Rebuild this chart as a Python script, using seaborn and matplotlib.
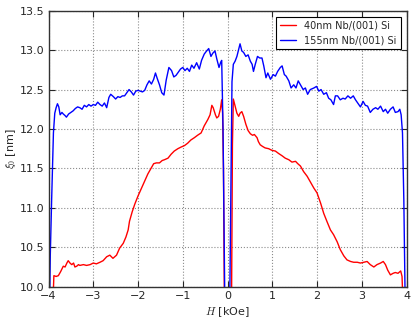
import numpy as np
import pandas as pd
import seaborn as sns
import matplotlib
matplotlib.use("Agg")
import matplotlib.pyplot as plt

# field values [kOe] and coherence length [nm]
blue_h = [-3.975, -3.96, -3.93, -3.89, -3.86, -3.83, -3.80, -3.77, -3.74, -3.70,
          -3.67, -3.63, -3.60, -3.55, -3.50, -3.45, -3.40, -3.35, -3.30, -3.25,
          -3.20, -3.15, -3.10, -3.05, -3.00, -2.95, -2.90, -2.85, -2.80, -2.75,
          -2.70, -2.65, -2.61, -2.55, -2.50, -2.45, -2.40, -2.35, -2.30, -2.25,
          -2.20, -2.15, -2.10, -2.05, -2.00, -1.95, -1.90, -1.85, -1.80, -1.75,
          -1.70, -1.65, -1.61, -1.57, -1.52, -1.47, -1.42, -1.37, -1.31, -1.25,
          -1.20, -1.15, -1.10, -1.05, -1.00, -0.95, -0.90, -0.85, -0.80, -0.75,
          -0.69, -0.63, -0.58, -0.52, -0.48, -0.42, -0.37, -0.33, -0.28, -0.24,
          -0.19, -0.15, -0.13, -0.10, -0.06, 0.05, 0.08, 0.10, 0.13, 0.17,
          0.21, 0.25, 0.28, 0.32, 0.36, 0.41, 0.46, 0.51, 0.55, 0.58,
          0.62, 0.67, 0.72, 0.77, 0.81, 0.86, 0.90, 0.96, 1.02, 1.07,
          1.12, 1.18, 1.22, 1.27, 1.31, 1.37, 1.42, 1.48, 1.53, 1.58,
          1.63, 1.69, 1.74, 1.79, 1.85, 1.93, 1.99, 2.04, 2.09, 2.15,
          2.21, 2.26, 2.31, 2.37, 2.41, 2.46, 2.52, 2.58, 2.63, 2.69,
          2.75, 2.81, 2.86, 2.91, 2.97, 3.03, 3.08, 3.13, 3.19, 3.25,
          3.31, 3.36, 3.42, 3.48, 3.53, 3.58, 3.64, 3.70, 3.75, 3.81,
          3.85, 3.88, 3.91, 3.94, 3.97]
blue_xi = [9.8, 10.4, 11.1, 11.95, 12.2, 12.27, 12.32, 12.28, 12.18, 12.21,
           12.19, 12.17, 12.15, 12.19, 12.21, 12.23, 12.26, 12.28, 12.27, 12.25,
           12.30, 12.28, 12.31, 12.29, 12.31, 12.30, 12.34, 12.31, 12.29, 12.33,
           12.27, 12.40, 12.44, 12.41, 12.38, 12.41, 12.40, 12.42, 12.42, 12.46,
           12.50, 12.47, 12.43, 12.48, 12.49, 12.48, 12.47, 12.49, 12.56, 12.61,
           12.57, 12.63, 12.71, 12.64, 12.56, 12.46, 12.43, 12.62, 12.78, 12.74,
           12.66, 12.68, 12.72, 12.76, 12.78, 12.74, 12.77, 12.73, 12.81, 12.77,
           12.84, 12.76, 12.87, 12.95, 12.98, 13.02, 12.92, 12.96, 12.99, 12.89,
           12.78, 12.85, 12.87, 12.0, 9.8, 9.8, 11.5, 12.6, 12.82, 12.86,
           12.92, 13.01, 13.08, 12.99, 12.97, 12.92, 12.94, 12.86, 12.82, 12.73,
           12.82, 12.92, 12.90, 12.90, 12.80, 12.65, 12.71, 12.63, 12.69, 12.67,
           12.73, 12.78, 12.80, 12.69, 12.67, 12.61, 12.52, 12.56, 12.52, 12.61,
           12.56, 12.50, 12.52, 12.44, 12.50, 12.52, 12.54, 12.48, 12.50, 12.44,
           12.46, 12.39, 12.37, 12.31, 12.42, 12.42, 12.37, 12.39, 12.38, 12.42,
           12.39, 12.42, 12.37, 12.33, 12.28, 12.35, 12.30, 12.29, 12.21, 12.25,
           12.27, 12.25, 12.29, 12.22, 12.25, 12.20, 12.25, 12.28, 12.21, 12.22,
           12.25, 12.18, 11.95, 11.1, 9.8]

red_h = [-3.90, -3.88, -3.83, -3.78, -3.73, -3.67, -3.63, -3.59, -3.56, -3.52,
         -3.48, -3.44, -3.41, -3.37, -3.33, -3.30, -3.22, -3.15, -3.07, -3.00,
         -2.93, -2.85, -2.78, -2.70, -2.63, -2.56, -2.48, -2.41, -2.33, -2.27,
         -2.22, -2.19, -2.13, -2.07, -2.00, -1.93, -1.85, -1.78, -1.70, -1.65,
         -1.59, -1.52, -1.46, -1.41, -1.33, -1.26, -1.19, -1.11, -1.04, -0.96,
         -0.89, -0.82, -0.74, -0.67, -0.59, -0.52, -0.44, -0.39, -0.35, -0.32,
         -0.27, -0.24, -0.20, -0.16, -0.13, -0.11, -0.09, -0.07, 0.09, 0.11,
         0.13, 0.17, 0.21, 0.25, 0.28, 0.32, 0.36, 0.41, 0.46, 0.51,
         0.56, 0.60, 0.66, 0.69, 0.73, 0.78, 0.84, 0.92, 0.99, 1.07,
         1.14, 1.22, 1.29, 1.37, 1.44, 1.52, 1.57, 1.63, 1.70, 1.78,
         1.85, 1.93, 2.00, 2.08, 2.15, 2.22, 2.30, 2.37, 2.45, 2.52,
         2.60, 2.67, 2.75, 2.82, 2.90, 2.97, 3.05, 3.12, 3.19, 3.27,
         3.34, 3.42, 3.48, 3.53, 3.58, 3.64, 3.70, 3.75, 3.81, 3.87,
         3.90, 3.92]
red_xi = [9.8, 10.14, 10.13, 10.14, 10.19, 10.26, 10.25, 10.30, 10.33, 10.30,
          10.28, 10.30, 10.25, 10.26, 10.28, 10.27, 10.28, 10.27, 10.28, 10.30,
          10.29, 10.31, 10.33, 10.38, 10.40, 10.36, 10.40, 10.49, 10.55, 10.63,
          10.72, 10.83, 10.95, 11.05, 11.15, 11.24, 11.34, 11.43, 11.51, 11.56,
          11.57, 11.57, 11.60, 11.61, 11.63, 11.68, 11.72, 11.75, 11.77, 11.79,
          11.82, 11.86, 11.89, 11.92, 11.95, 12.04, 12.12, 12.18, 12.30, 12.27,
          12.18, 12.14, 12.16, 12.25, 12.37, 12.20, 11.5, 9.8, 9.8, 11.8,
          12.38, 12.29, 12.20, 12.16, 12.20, 12.22, 12.16, 12.06, 11.98, 11.94,
          11.92, 11.93, 11.89, 11.84, 11.80, 11.78, 11.76, 11.75, 11.73, 11.72,
          11.69, 11.66, 11.63, 11.61, 11.58, 11.59, 11.56, 11.53, 11.46, 11.40,
          11.33, 11.25, 11.19, 11.06, 10.93, 10.83, 10.72, 10.66, 10.57, 10.47,
          10.39, 10.34, 10.32, 10.31, 10.31, 10.30, 10.31, 10.32, 10.28, 10.25,
          10.28, 10.30, 10.32, 10.28, 10.21, 10.15, 10.17, 10.18, 10.17, 10.20,
          10.13, 9.8]

labels = ["40nm Nb/(001) Si", "155nm Nb/(001) Si"]
xticks = [-4, -3, -2, -1, 0, 1, 2, 3, 4]
yticks = [10.0, 10.5, 11.0, 11.5, 12.0, 12.5, 13.0, 13.5]

df_red = pd.DataFrame({"H": red_h, "xi": red_xi})
df_blue = pd.DataFrame({"H": blue_h, "xi": blue_xi})

# old matplotlib look: dotted grid, ticks inside
sns.set_style("ticks", {"axes.grid": True, "grid.linestyle": ":", "grid.color": "0.55",
                        "xtick.direction": "in", "ytick.direction": "in",
                        "axes.edgecolor": "black"})
plt.rcParams['font.family'] = ['DejaVu Sans']
plt.rcParams['mathtext.fontset'] = 'cm'

fig = plt.figure(figsize=(4.16, 3.22), dpi=100)
ax = fig.add_axes([0.1166, 0.1096, 0.8606, 0.8572])

sns.lineplot(data=df_red, x="H", y="xi", color="red", lw=1.0, label=labels[0],
             estimator=None, sort=False, ax=ax)
sns.lineplot(data=df_blue, x="H", y="xi", color="blue", lw=1.0, label=labels[1],
             estimator=None, sort=False, ax=ax)

ax.set_xlim(-4, 4)
ax.set_ylim(10, 13.5)
ax.set_xticks(xticks)
ax.set_yticks(yticks)
ax.set_xticklabels(["\u2212" + str(-t) if t < 0 else str(t) for t in xticks])
ax.set_yticklabels([f"{t:.1f}" for t in yticks])
ax.tick_params(labelsize=8, top=True, right=True, length=4, width=0.8, pad=3)
for s in ax.spines.values():
    s.set_linewidth(1.0)
    s.set_color("0.2")
ax.grid(True, linestyle=":", color="0.55", linewidth=0.8)

ax.set_xlabel("$H$ [kOe]", fontsize=8, labelpad=3)
ax.set_ylabel(r"$\xi_0$ [nm]", fontsize=8, labelpad=1)

leg = ax.legend(loc="upper right", fontsize=7, handlelength=1.6, handletextpad=0.9,
                fancybox=False, framealpha=1, borderaxespad=0.6)
leg.get_frame().set_edgecolor("black")
leg.get_frame().set_linewidth(0.8)

fig.savefig("out.png", dpi=100)
